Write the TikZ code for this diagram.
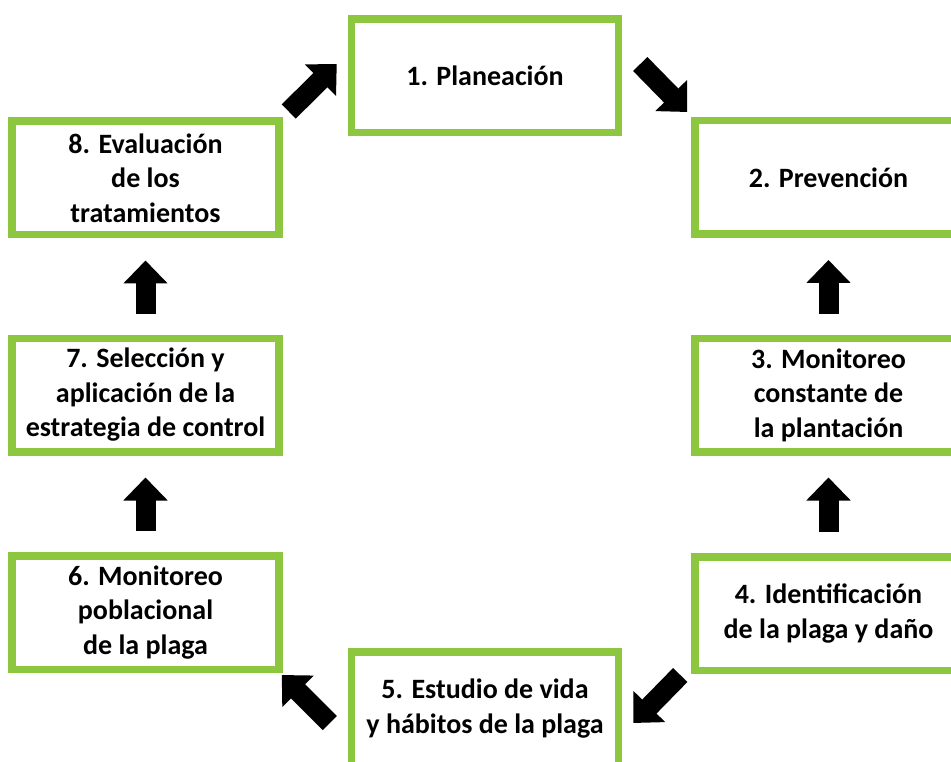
\documentclass[tikz,border=0pt]{standalone}
\usepackage{fontspec}
\setmainfont{Carlito}
\usetikzlibrary{arrows.meta}
\definecolor{leafgreen}{HTML}{8DC63F}

\begin{document}
\begin{tikzpicture}[x=1pt,y=-1pt,
    stage/.style={draw=leafgreen,line width=7.5pt,minimum width=267pt,minimum height=113.5pt,
      inner sep=0pt,align=center,font=\bfseries\fontsize{28}{34.5}\selectfont},
    flow/.style={line width=20pt,-{Triangle[width=43pt,length=23pt]}}]

      \useasboundingbox (0,0) rectangle (951,762);
      \clip (0,0) rectangle (951,762);

      \begin{scope}[every node/.style={stage}]
        \node (1) at (485,76)    {1. Planeación};
        \node (2) at (828.5,177.5) {2. Prevención};
        \node (3) at (828.5,395) {3. Monitoreo\\constante de\\la plantación};
        \node (4) at (828.5,613.5) {4. Identificación\\de la plaga y daño};
        \node (5) at (485,708.5) {5. Estudio de vida\\y hábitos de la plaga};
        \node (6) at (145.5,612.5) {6. Monitoreo\\poblacional\\de la plaga};
        \node (7) at (145.5,395) {7. Selección y\\aplicación de la\\estrategia de control};
        \node (8) at (145.5,178) {8. Evaluación\\de los\\tratamientos};
      \end{scope}

      \begin{scope}[every path/.style={flow}]
        \draw ([xshift=18pt,yshift=12pt]1.east) -- ([xshift=-4pt,yshift=5pt]2.north west);
        \draw ([yshift=21pt]3.north) -- ([yshift=-22pt]2.south);
        \draw ([yshift=21pt]4.north) -- ([yshift=-22pt]3.south);
        \draw ([xshift=-11pt,yshift=-1pt]4.south west) -- ([xshift=11pt,yshift=-14.5pt]5.east);
        \draw ([xshift=-18pt,yshift=-14.5pt]5.west) -- ([xshift=-1pt,yshift=-2pt]6.south east);
        \draw ([yshift=21pt]6.north) -- ([yshift=-22pt]7.south);
        \draw ([yshift=21pt]7.north) -- ([yshift=-22pt]8.south);
        \draw ([xshift=6pt,yshift=6pt]8.north east) -- ([xshift=-11pt,yshift=12pt]1.west);
      \end{scope}

    \end{tikzpicture}
\end{document}
